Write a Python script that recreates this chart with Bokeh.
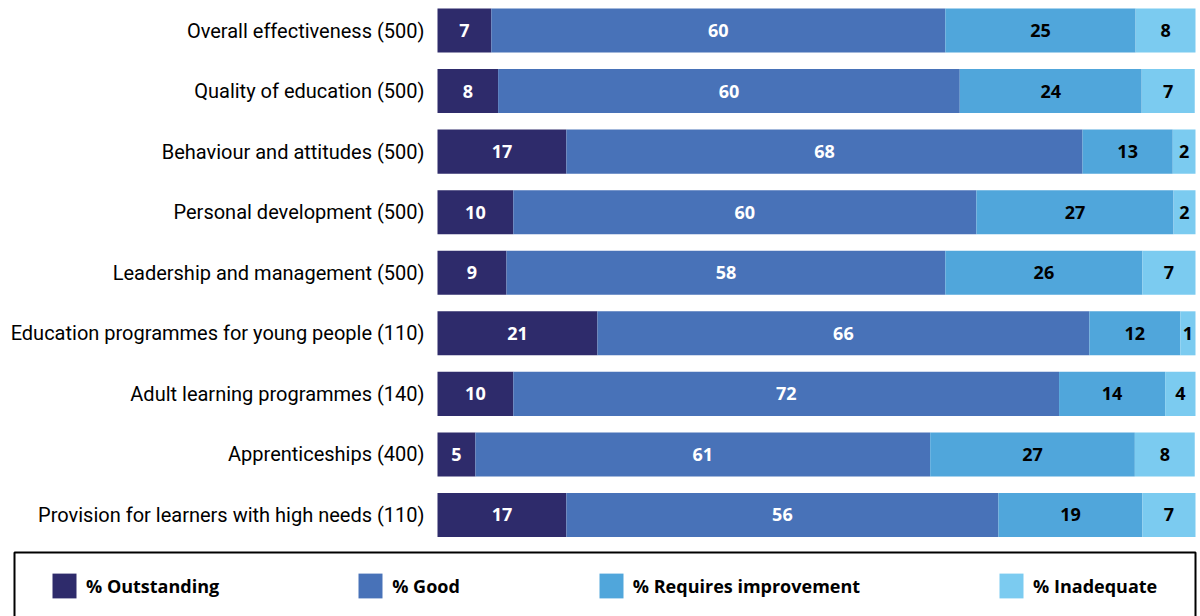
from bokeh.plotting import figure
from bokeh.models import (ColumnDataSource, Range1d, Legend, LegendItem, BoxAnnotation)
from bokeh.core.properties import value
from bokeh.embed import file_html
from bokeh.resources import INLINE
import numpy as np

# ---------------- data ----------------
categories = [
    "Overall effectiveness (500)",
    "Quality of education (500)",
    "Behaviour and attitudes (500)",
    "Personal development (500)",
    "Leadership and management (500)",
    "Education programmes for young people (110)",
    "Adult learning programmes (140)",
    "Apprenticeships (400)",
    "Provision for learners with high needs (110)",
]
series_names = ["% Outstanding", "% Good", "% Requires improvement", "% Inadequate"]

# bar lengths (percent) as drawn
outstanding = [7.1, 8.0, 17.0, 10.0, 9.1, 21.1, 10.0, 5.0, 17.0]
good = [59.9, 60.9, 68.1, 61.1, 57.9, 64.9, 72.0, 60.0, 57.0]
requires_improvement = [25.1, 24.0, 11.9, 26.0, 26.0, 12.0, 14.0, 27.0, 19.0]
inadequate = [7.9, 7.0, 3.0, 2.9, 7.0, 2.0, 4.0, 7.9, 7.0]

# printed data labels
outstanding_labels = [7, 8, 17, 10, 9, 21, 10, 5, 17]
good_labels = [60, 60, 68, 60, 58, 66, 72, 61, 56]
requires_improvement_labels = [25, 24, 13, 27, 26, 12, 14, 27, 19]
inadequate_labels = [8, 7, 2, 2, 7, 1, 4, 8, 7]

colors = ["#2E2B6B", "#4872B8", "#50A6DB", "#7BCBF0"]
label_colors = ["white", "white", "black", "black"]

series = [outstanding, good, requires_improvement, inadequate]
series_labels = [outstanding_labels, good_labels, requires_improvement_labels, inadequate_labels]

CAT_FONT = "Roboto"
FONT = "Open Sans"

p = figure(width=1200, height=616, output_backend="svg", toolbar_location=None,
           x_range=Range1d(-57.652, 100.66), y_range=Range1d(9.676, -0.4954),
           x_axis_location=None, y_axis_location=None,
           min_border_left=0, min_border_right=0,
           min_border_top=0, min_border_bottom=0)
p.outline_line_color = None
p.grid.grid_line_color = None
p.background_fill_color = "white"

ys = np.arange(len(categories))

# category labels, right-aligned just left of the bars
cat_src = ColumnDataSource(dict(x=np.zeros(len(categories)), y=ys, txt=categories))
p.text(x="x", y="y", text="txt", source=cat_src, x_offset=-13, text_align="right",
       text_baseline="middle", text_color="black", text_font=value(CAT_FONT),
       text_font_size="20px")

left = np.zeros(len(categories))
renderers = []
for vals, labs, col, tcol in zip(series, series_labels, colors, label_colors):
    vals = np.array(vals, dtype=float)
    right = left + vals
    src = ColumnDataSource(dict(y=ys, left=left, right=right,
                                mid=(left + right) / 2,
                                txt=[str(v) for v in labs]))
    r = p.hbar(y="y", left="left", right="right", height=0.7266, source=src,
               fill_color=col, line_color=None)
    renderers.append(r)
    p.text(x="mid", y="y", text="txt", source=src, text_align="center",
           text_baseline="middle", text_color=tcol, text_font=value(FONT),
           text_font_size="18px", text_font_style="bold")
    left = right

legend = Legend(items=[LegendItem(label=n, renderers=[r]) for n, r in zip(series_names, renderers)],
                orientation="horizontal", location=(49, 15),
                glyph_width=30, glyph_height=31, label_height=31,
                label_standoff=7, spacing=136, padding=0, margin=0,
                border_line_alpha=0, background_fill_alpha=0,
                label_text_font=FONT, label_text_font_size="18px",
                label_text_font_style="bold", label_text_color="black")
p.add_layout(legend)

box = BoxAnnotation(left=14, right=1195, top=552, bottom=680,
                    left_units="canvas", right_units="canvas",
                    top_units="canvas", bottom_units="canvas",
                    fill_alpha=0, line_color="black", line_alpha=1.0, line_width=2)
p.add_layout(box)

open("out.html", "w").write(file_html(p, INLINE))
